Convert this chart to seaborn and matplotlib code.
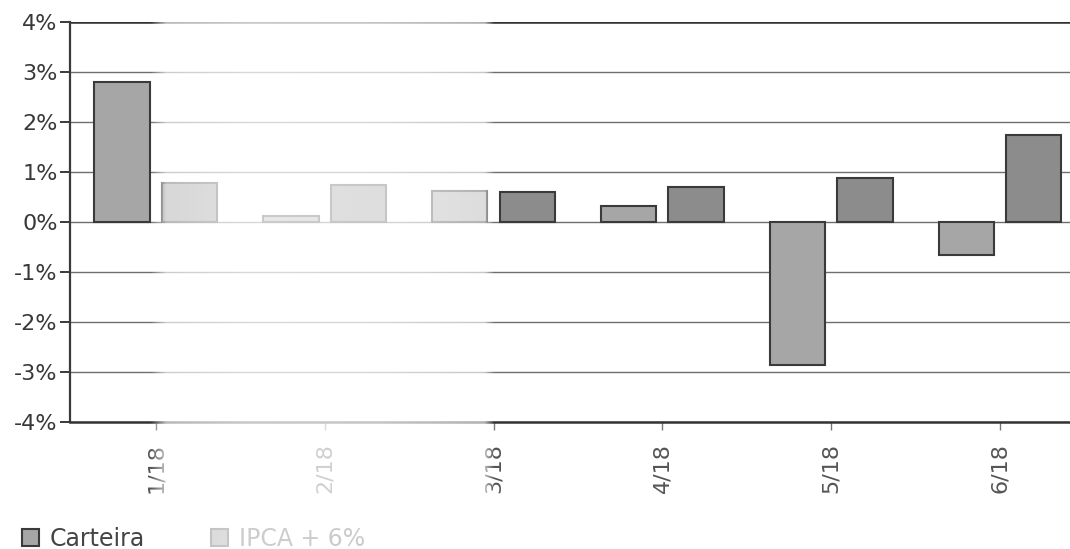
import numpy as np
import pandas as pd
import matplotlib
matplotlib.use("Agg")
import matplotlib.pyplot as plt
import seaborn as sns

# Monthly returns (%) by series
meses = ["1/18", "2/18", "3/18", "4/18", "5/18", "6/18"]
carteira = [2.81, 0.12, 0.63, 0.32, -2.86, -0.65]
ipca_6 = [0.79, 0.74, 0.60, 0.71, 0.89, 1.75]
series = ["Carteira", "IPCA + 6%"]
y_ticks = [-4, -3, -2, -1, 0, 1, 2, 3, 4]

df = pd.DataFrame({
    "mes": meses * 2,
    "valor": carteira + ipca_6,
    "serie": [series[0]] * len(meses) + [series[1]] * len(meses),
})

sns.set_theme(style="white")
plt.rcParams["font.family"] = ["DejaVu Sans"]

W, H, DPI = 1070, 549, 100
fig = plt.figure(figsize=(W / DPI, H / DPI), dpi=DPI)
ax = fig.add_axes([70 / W, 1 - 422 / H, 1 - 70 / W, 400 / H])

palette = {series[0]: "#a6a6a6", series[1]: "#8c8c8c"}
sns.barplot(data=df, x="mes", y="valor", hue="serie", order=meses,
            hue_order=series, palette=palette, width=0.8, gap=0.18,
            edgecolor="#3a3a3a", linewidth=1.5, saturation=1, ax=ax)

ax.set_ylim(-4, 4)
ax.set_xlim(-0.509, 5.415)
ax.set_yticks(y_ticks)
ax.set_yticklabels([f"{v}%" for v in y_ticks], fontsize=16, color="#383838")
ax.set_xticks(range(len(meses)))
ax.set_xticklabels(meses, rotation=90, fontsize=16, color="#555555")
ax.set_xlabel("")
ax.set_ylabel("")

ax.set_axisbelow(True)
ax.yaxis.grid(True, color="#6e6e6e", linewidth=1.0)
ax.axhline(4, color="#333333", linewidth=1.8, zorder=1)

for side in ("top", "right"):
    ax.spines[side].set_visible(False)
ax.spines["left"].set_color("#3a3a3a")
ax.spines["left"].set_linewidth(1.6)
ax.spines["bottom"].set_color("#333333")
ax.spines["bottom"].set_linewidth(1.8)
ax.tick_params(axis="y", direction="out", length=7, width=1.4, color="#3a3a3a", pad=2, left=True)
ax.tick_params(axis="x", direction="out", length=6, width=1.0, color="#777777", pad=9, bottom=True)

handles, labels = ax.get_legend_handles_labels()
ax.legend_.remove()
leg = fig.legend(handles, labels, loc="lower left", bbox_to_anchor=(8 / W, -16 / H),
                 ncol=2, frameon=False, fontsize=17, handlelength=0.72,
                 handleheight=0.72, handletextpad=0.45, columnspacing=2.8,
                 borderaxespad=0.2)
for t in leg.get_texts():
    t.set_color("#444444")

# washed-out vertical band across the left-middle of the sheet
px = np.arange(W)
alpha = np.interp(px, [0, 150, 166, 250, 380, 484, 494, W - 1],
                  [0, 0, 0.66, 0.74, 0.72, 0.62, 0, 0])
overlay = np.ones((2, W, 4))
overlay[..., 3] = alpha[None, :]
hax = fig.add_axes([0, 0, 1, 1], zorder=20)
hax.imshow(overlay, extent=(0, W, 0, H), aspect="auto", interpolation="bilinear")
hax.set_xlim(0, W)
hax.set_ylim(0, H)
hax.axis("off")

fig.savefig("out.png", dpi=DPI)
